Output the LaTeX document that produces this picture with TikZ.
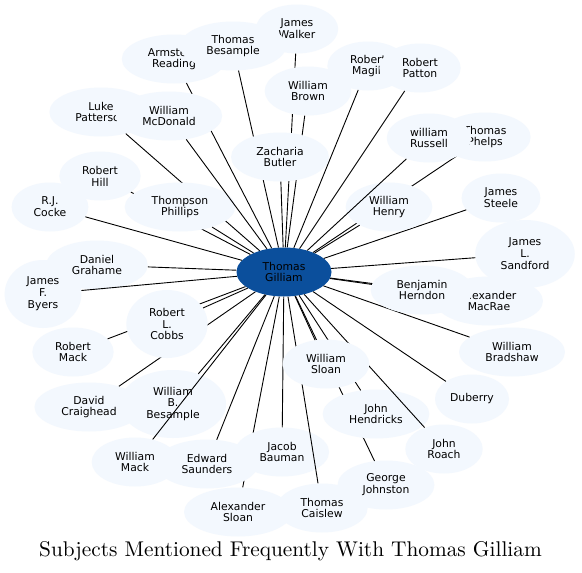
\documentclass[tikz,border=0pt]{standalone}
\usepackage{fontspec}
\usetikzlibrary{shapes.geometric}
\newfontfamily\nodefam{DejaVu Sans}
\definecolor{nodefill}{RGB}{243,248,254}
\definecolor{hubfill}{RGB}{11,79,156}
\begin{document}
\begin{tikzpicture}[x=1pt,y=-1pt,
  person/.style={ellipse, fill=nodefill, inner xsep=10.85pt, inner ysep=0pt,
    minimum height=49pt, align=center, text=black,
    font={\nodefam\fontsize{10.8}{11.9}\selectfont}},
  tri/.style={person, minimum height=68pt},
  hub/.style={person, fill=hubfill, minimum width=95pt},
  edge/.style={draw=black, line width=0.9pt}]
\useasboundingbox (0,0) rectangle (582,573);
\fill[white] (0,0) rectangle (582,573);

\node[hub] (c) at (284,272) {Thomas\\Gilliam};

\node[person] (cocke) at (50,207) {R.J.\\Cocke};
\draw[edge] (c) -- (cocke);
\node[person] (grahame) at (97,265) {Daniel\\Grahame};
\draw[edge] (c) -- (grahame);
\node[tri] (byers) at (43,294) {James\\F.\\Byers};
\draw[edge] (c) -- (byers);
\node[person] (steele) at (501,198) {James\\Steele};
\draw[edge] (c) -- (steele);
\node[tri] (sandford) at (525,254) {James\\L.\\Sandford};
\draw[edge] (c) -- (sandford);
\node[person] (bradshaw) at (512,352) {William\\Bradshaw};
\draw[edge] (c) -- (bradshaw);
\node[person, inner xsep=0pt, minimum width=74pt] (duberry) at (472,399) {Duberry};
\draw[edge] (c) -- (duberry);

\node[person] (phelps) at (485,137) {Thomas\\Phelps};
\draw[edge] (c) -- (phelps);
\node[person] (henry) at (389,207) {William\\Henry};
\draw[edge] (c) -- (henry);
\node[person] (russell) at (429,138) {william\\Russell};
\draw[edge] (c) -- (russell);
\node[person] (macrae) at (489,301) {Alexander\\MacRae};
\draw[edge] (c) -- (macrae);
\node[person] (herndon) at (422,290) {Benjamin\\Herndon};
\draw[edge] (c) -- (herndon);
\node[person] (craighead) at (89,407) {David\\Craighead};
\draw[edge] (c) -- (craighead);
\node[tri] (wbb) at (173,404) {William\\B.\\Besample};
\draw[edge] (c) -- (wbb);
\node[person] (wmack) at (135,462) {William\\Mack};
\draw[edge] (c) -- (wmack);
\node[person] (asloan) at (238,512) {Alexander\\Sloan};
\draw[edge] (c) -- (asloan);
\node[person] (saunders) at (207,464) {Edward\\Saunders};
\draw[edge] (c) -- (saunders);
\node[person] (bauman) at (282,452) {Jacob\\Bauman};
\draw[edge] (c) -- (bauman);
\node[person] (caislew) at (322,508) {Thomas\\Caislew};
\draw[edge] (c) -- (caislew);
\node[person] (johnston) at (386,485) {George\\Johnston};
\draw[edge] (c) -- (johnston);
\node[person] (hendricks) at (376,414) {John\\Hendricks};
\draw[edge] (c) -- (hendricks);
\node[person] (roach) at (444,449) {John\\Roach};
\draw[edge] (c) -- (roach);
\node[person] (wsloan) at (326,364) {William\\Sloan};
\draw[edge] (c) -- (wsloan);
\node[person] (rmack) at (73,352) {Robert\\Mack};
\draw[edge] (c) -- (rmack);
\node[tri] (cobbs) at (167,324) {Robert\\L.\\Cobbs};
\draw[edge] (c) -- (cobbs);
\node[person] (hill) at (100,176) {Robert\\Hill};
\draw[edge] (c) -- (hill);
\node[person] (luke) at (101,112) {Luke\\Patterson};
\draw[edge] (c) -- (luke);
\node[person] (phillips) at (180,207) {Thompson\\Phillips};
\draw[edge] (c) -- (phillips);
\node[person] (armstead) at (174,59) {Armstead\\Reading};
\draw[edge] (c) -- (armstead);
\node[person] (mcdonald) at (169,116) {William\\McDonald};
\draw[edge] (c) -- (mcdonald);
\node[person] (walker) at (297,29) {James\\Walker};
\draw[edge] (c) -- (walker);
\node[person] (tbesample) at (233,46) {Thomas\\Besample};
\draw[edge] (c) -- (tbesample);
\node[person] (brown) at (308,91) {William\\Brown};
\draw[edge] (c) -- (brown);
\node[person] (butler) at (280,157) {Zacharia\\Butler};
\draw[edge] (c) -- (butler);
\node[person] (magill) at (368,66) {Robert\\Magill};
\draw[edge] (c) -- (magill);
\node[person] (patton) at (420,68) {Robert\\Patton};
\draw[edge] (c) -- (patton);

\node[font=\fontsize{10}{12}\selectfont, inner sep=0pt, scale=2.13] (title) at (290.5,551) {Subjects Mentioned Frequently With Thomas Gilliam};
\end{tikzpicture}
\end{document}
